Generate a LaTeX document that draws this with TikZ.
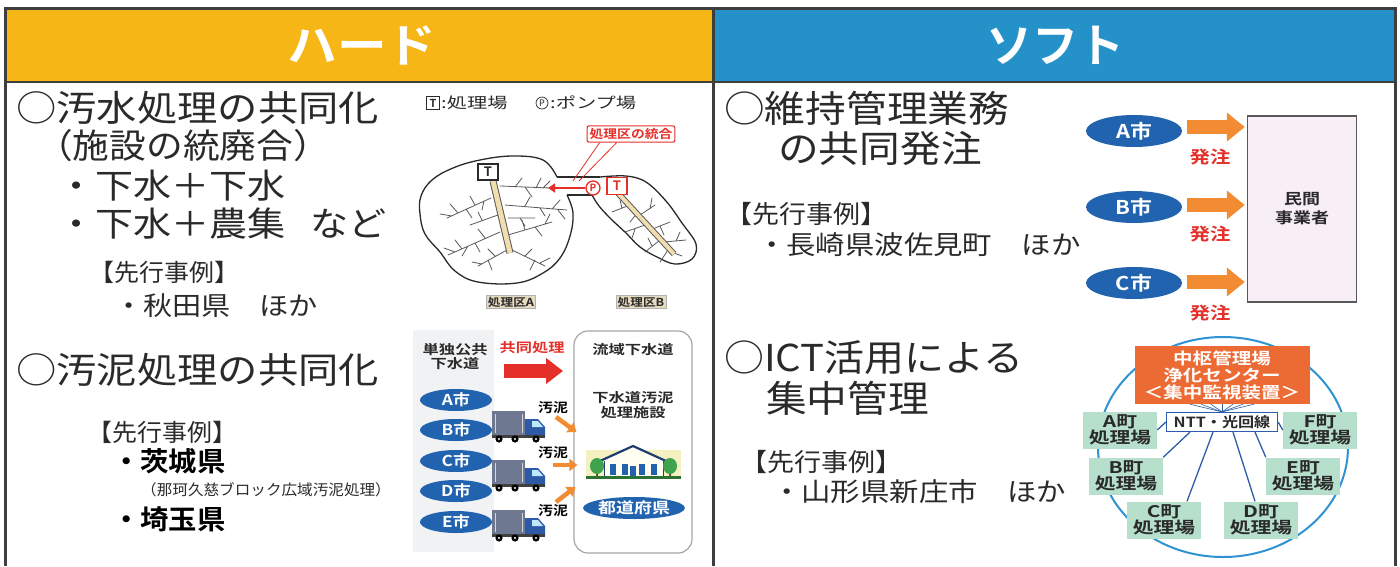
\documentclass[tikz,border=0pt]{standalone}
\usepackage{fontspec}
\usepackage{graphicx}
\usetikzlibrary{arrows.meta,shapes.geometric,calc}
\newfontfamily\jp{Noto Sans CJK JP}[BoldFont={Noto Sans CJK JP Bold}]
\newcommand\sx[2]{\scalebox{#1}[1]{#2}}
\newcommand\fz[1]{\jp\fontsize{#1}{#1}\selectfont}
\definecolor{hardbg}{HTML}{F6B615}
\definecolor{softbg}{HTML}{2492C9}
\definecolor{framec}{HTML}{3E3E3E}
\definecolor{ink}{HTML}{2A2A2A}
\definecolor{cityblue}{HTML}{2163AE}
\definecolor{ordorange}{HTML}{F28B32}
\definecolor{alertred}{HTML}{E5302A}
\definecolor{hubred}{HTML}{EC6A33}
\definecolor{plantgreen}{HTML}{B6DFCC}
\definecolor{ringblue}{HTML}{2F93D2}
\definecolor{lineblue}{HTML}{2D5DA8}
\definecolor{firmpink}{HTML}{F7EEF6}
\definecolor{trunkpale}{HTML}{F2DDB0}
\definecolor{branchgray}{HTML}{5A5A5A}
\definecolor{tagbeige}{HTML}{E6DBBE}
\definecolor{panelgray}{HTML}{F1F2F4}
\definecolor{truckgray}{HTML}{6E7890}
\definecolor{cabblue}{HTML}{2C5AA6}
\definecolor{roofnavy}{HTML}{1F3C6E}
\definecolor{treegreen}{HTML}{3FA34D}
\definecolor{lawn}{HTML}{F4F0C2}

\tikzset{
  tx/.style={inner sep=0pt, anchor=west, text=ink},
  cityov/.style={ellipse, fill=cityblue, text=white, inner sep=0pt,
    font=\fz{15}\bfseries, minimum width=72pt, minimum height=22pt},
  bigcity/.style={ellipse, fill=cityblue, text=white, inner sep=0pt,
    font=\fz{19}\bfseries, minimum width=96pt, minimum height=32pt},
  plantbox/.style={fill=plantgreen, text=ink, inner sep=0pt, align=center,
    font=\fz{16}\bfseries, minimum width=74pt, minimum height=37pt},
  orderarrow/.style={draw=ordorange, line width=14pt,
    -{Triangle[length=18pt,width=28pt]}},
  ordertag/.style={text=alertred, inner sep=0pt, font=\fz{17}\bfseries},
  sludgearrow/.style={draw=ordorange, line width=4.5pt,
    -{Triangle[length=8pt,width=12pt]}},
  sludgetag/.style={text=black, inner sep=0pt, font=\fz{13}\bfseries},
  branch/.style={draw=branchgray, line width=0.8pt, line cap=round},
  outline/.style={draw=ink, line width=1.3pt},
  netline/.style={draw=lineblue, line width=1.3pt},
  truck/.pic={
    \fill[truckgray] (0,0) rectangle (33,24);
    \draw[white!70!truckgray, line width=0.5pt] (3,3) -- (3,22) (30,3) -- (30,22);
    \fill[cabblue] (33,8) -- (46,8) -- (53,16) -- (53,26) -- (33,26) -- cycle;
    \fill[cyan!25] (40,10) -- (46,10) -- (51,16) -- (40,16) -- cycle;
    \fill[black!75] (0,24) rectangle (53,27);
    \foreach \w in {7,23,44} {
      \fill[black] (\w,28) circle (3.6);
      \fill[white] (\w,28) circle (1.2);
    }
  },
  plant/.pic={
    \fill[lawn] (0,6) rectangle (95,33);
    \fill[white!95!yellow] (18,15) rectangle (77,33);
    \draw[roofnavy, line width=0.8pt] (18,15) rectangle (77,33);
    \fill[white!95!yellow] (14,17) -- (47,2) -- (80,17) -- cycle;
    \draw[roofnavy, line width=2.2pt, line join=round] (14,17) -- (47,2) -- (80,17);
    \foreach \wx in {24,36,53,65} {\fill[cityblue] (\wx,20) rectangle ++(6,11);}
    \fill[cityblue] (44,22) rectangle (50,33);
    \fill[brown!60!black] (10,24) rectangle (12,33) (83,24) rectangle (85,33);
    \fill[treegreen] (11,22) ellipse [x radius=7, y radius=8];
    \fill[treegreen] (84,22) ellipse [x radius=7, y radius=8];
    \fill[treegreen!70!black] (0,32) rectangle (95,35);
  }
}

\begin{document}
\begin{tikzpicture}[x=1pt, y=-1pt]
\useasboundingbox (0,0) rectangle (1400,566);
\fill[white] (0,0) rectangle (1400,566);

% ---------- header bands ----------
\fill[hardbg] (5,8) rectangle (713,82);
\fill[softbg] (713,8) rectangle (1395,82);
\node[font=\fz{46}\bfseries, text=white, inner sep=0pt] (hardtitle) at (362,45) {\sx{1.08}{ハード}};
\node[font=\fz{46}\bfseries, text=white, inner sep=0pt] (softtitle) at (1055,45) {\sx{1.0}{ソフト}};

% ---------- left column: texts ----------
\node[tx, font=\fz{36}] (h1) at (16,108) {\sx{1.12}{○汚水処理の共同化}};
\node[tx, font=\fz{34}] (h1b) at (36,146) {\sx{1.08}{（施設の統廃合）}};
\node[tx, font=\fz{34}] (h1c) at (57,186) {\sx{1.12}{・下水＋下水}};
\node[tx, font=\fz{34}] (h1d) at (57,224) {\sx{1.12}{・下水＋農集\hspace{22pt}など}};
\node[tx, font=\fz{24}] (c1) at (89,272) {\sx{1.04}{【先行事例】}};
\node[tx, font=\fz{26}] (c1a) at (114,306) {\sx{1.12}{・秋田県　ほか}};

\node[tx, font=\fz{36}] (h2) at (16,370) {\sx{1.12}{○汚泥処理の共同化}};
\node[tx, font=\fz{24}] (c2) at (87,432) {\sx{1.04}{【先行事例】}};
\node[tx, font=\fz{27}\bfseries, text=black] (c2a) at (112,461) {\sx{1.05}{・茨城県}};
\node[tx, font=\fz{15}] (c2b) at (141,490) {\sx{1.04}{（那珂久慈ブロック広域汚泥処理）}};
\node[tx, font=\fz{27}\bfseries, text=black] (c2c) at (112,519) {\sx{1.05}{・埼玉県}};

% ---------- treatment district sketch ----------
\node[draw=ink, line width=0.8pt, font=\fz{11}\bfseries, text=ink, inner sep=0pt,
      minimum width=13pt, minimum height=13pt] (legT) at (433,103) {T};
\node[tx, font=\fz{15}] (legTt) at (441,103) {\sx{1.35}{:処理場}};
\node[circle, draw=ink, line width=0.7pt, inner sep=0pt, minimum size=12pt,
      font=\fz{9}, text=ink] (legP) at (542,103) {P};
\node[tx, font=\fz{15}] (legPt) at (550,103) {\sx{1.35}{:ポンプ場}};

% district A outline and the channel towards district B
\draw[outline] plot[smooth, tension=0.65] coordinates {(557,177) (543,160) (513,156) (480,160) (453,168) (432,180) (421,196) (420,214) (425,234) (440,252) (455,271) (478,282) (517,283) (543,273) (560,258) (570,236) (573,213) (567,195)};
\draw[outline] (557,177) -- (600,177);
\draw[outline] (567,195) -- (592,195);
% district B outline
\draw[outline] plot[smooth, tension=0.6] coordinates {(592,195) (599,206) (611,219) (626,233) (640,247) (657,257) (675,264) (692,259) (696,244) (682,223) (666,201) (646,182) (626,176) (600,177)};

% sewer branches, district A
\draw[branch] (500,186) -- (550,188) (515,187) -- (522,178) (525,187) -- (532,197) (536,188) -- (541,178) (543,188) -- (550,181)
  (491,198) -- (447,218) (475,205) -- (470,196) (466,209) -- (472,218) (458,213) -- (450,204) (452,216) -- (440,214) (484,201) -- (482,210)
  (505,205) -- (567,210) (525,206) -- (530,197) (540,208) -- (545,216) (552,209) -- (560,200) (558,210) -- (565,219)
  (500,232) -- (448,255) (485,238) -- (478,229) (475,243) -- (480,252) (462,249) -- (455,240) (455,252) -- (444,248) (468,246) -- (462,256)
  (508,235) -- (552,222) (525,230) -- (522,220) (535,227) -- (542,236) (545,224) -- (550,214)
  (507,250) -- (478,266) (495,256) -- (488,249) (488,260) -- (492,270) (482,264) -- (472,262)
  (512,250) -- (545,266) (525,256) -- (532,249) (535,260) -- (530,270) (540,263) -- (550,258)
  (498,215) -- (470,225) (482,220) -- (478,212) (508,218) -- (535,218) (520,218) -- (525,226);
\draw[branchgray, line width=7pt, line cap=butt] (493,181) -- (510,253);
\draw[trunkpale, line width=5pt, line cap=butt] (493,181) -- (510,253);
% sewer branches, district B
\draw[branch] (630,205) -- (612,212) (622,208) -- (620,200) (640,215) -- (655,205) (650,209) -- (652,198)
  (645,225) -- (625,232) (635,229) -- (632,238) (650,230) -- (670,222) (660,226) -- (664,235)
  (660,240) -- (645,252) (652,246) -- (648,238) (664,242) -- (686,240) (676,241) -- (680,232)
  (668,250) -- (660,262) (671,252) -- (682,256) (638,212) -- (630,222);
\draw[branchgray, line width=6pt, line cap=butt] (617,192) -- (674,254);
\draw[trunkpale, line width=4pt, line cap=butt] (617,192) -- (674,254);

\node[draw=ink, fill=white, line width=1.2pt, font=\fz{13}\bfseries, text=ink, inner sep=0pt,
      minimum width=20pt, minimum height=16pt] (plantA) at (488,172) {T};
\node[draw=alertred, fill=white, line width=1.3pt, font=\fz{13}\bfseries, text=alertred, inner sep=0pt,
      minimum width=20pt, minimum height=17pt] (plantB) at (617,186) {T};
\node[circle, draw=alertred, fill=white, line width=1.3pt, font=\fz{10}\bfseries, text=alertred,
      inner sep=0pt, minimum size=14pt] (pump) at (593,188) {P};
\coordinate (pipeend) at (548,188);
\draw[alertred, line width=2.6pt, -{Triangle[length=7pt,width=9pt]}] (pump.west) -- (pipeend);

\node[draw=alertred, fill=white, line width=1.1pt, rounded corners=2pt, inner sep=2.5pt,
      font=\fz{12}\bfseries, text=alertred] (merge) at (631,134) {\sx{1.15}{処理区の統合}};
\coordinate (mergeA) at (573,181);
\coordinate (mergeB) at (579,181);
\draw[alertred, line width=0.8pt] ($(merge.south west)+(13,0)$) -- (mergeA)
                                  ($(merge.south west)+(30,0)$) -- (mergeB);

\node[fill=tagbeige, draw=gray!60, inner sep=1.5pt, font=\fz{11}\bfseries, text=ink] (tagA) at (511,302) {\sx{1.15}{処理区A}};
\node[fill=tagbeige, draw=gray!60, inner sep=1.5pt, font=\fz{11}\bfseries, text=ink] (tagB) at (641,302) {\sx{1.15}{処理区B}};

% ---------- sludge sketch ----------
\fill[panelgray] (413,330) rectangle (494,552);
\node[font=\fz{13}\bfseries, text=ink, align=center, inner sep=0pt] (sewerlbl) at (455,357)
  {\sx{1.25}{単独公共}\\[1pt]\sx{1.25}{下水道}};
\node[font=\fz{13}\bfseries, text=alertred, inner sep=0pt] (jointlbl) at (532,348) {\sx{1.25}{共同処理}};
\coordinate (jointA) at (504,371);
\coordinate (jointB) at (563,371);
\draw[alertred, line width=14pt, -{Triangle[length=17pt,width=25pt]}] (jointA) -- (jointB);

\node[draw=gray!70, line width=1.2pt, rounded corners=14pt, minimum width=118pt,
      minimum height=222pt, inner sep=0pt] (basin) at (633,442) {};
\node[font=\fz{13}\bfseries, text=ink, inner sep=0pt] (basinlbl) at (633,350) {\sx{1.25}{流域下水道}};
\node[font=\fz{13}\bfseries, text=ink, align=center, inner sep=0pt] (sludgefac) at (633,405)
  {\sx{1.25}{下水道汚泥}\\[2pt]\sx{1.25}{処理施設}};
\pic at (586,444) {plant};
\node[cityov, minimum width=101pt, minimum height=22pt] (pref) at (634,508) {\sx{1.2}{都道府県}};

\node[cityov] (sa) at (456,400) {\sx{1.15}{A市}};
\node[cityov] (sb) at (456,430) {\sx{1.15}{B市}};
\node[cityov] (sc) at (456,461) {\sx{1.15}{C市}};
\node[cityov] (sd) at (456,491) {\sx{1.15}{D市}};
\node[cityov] (se) at (456,522) {\sx{1.15}{E市}};

\pic at (492,411) {truck};
\pic at (492,460) {truck};
\pic at (492,510) {truck};

\node[sludgetag] (sl1) at (553,408) {\sx{1.15}{汚泥}};
\node[sludgetag] (sl2) at (553,453) {\sx{1.15}{汚泥}};
\node[sludgetag] (sl3) at (553,511) {\sx{1.15}{汚泥}};
\draw[sludgearrow] (556,417) -- ($(basin.west)+(3,-10)$);
\draw[sludgearrow] (553,465) -- ($(basin.west)+(4,23)$);
\draw[sludgearrow] (556,502) -- ($(basin.west)+(2,45)$);

% ---------- right column: texts ----------
\node[tx, font=\fz{37}] (s1) at (724,108) {\sx{1.1}{○維持管理業務}};
\node[tx, font=\fz{37}] (s1b) at (778,148) {\sx{1.1}{の共同発注}};
\node[tx, font=\fz{25}] (d1) at (725,214) {\sx{1.08}{【先行事例】}};
\node[tx, font=\fz{26}] (d1a) at (757,245) {\sx{1.13}{・長崎県波佐見町　ほか}};
\node[tx, font=\fz{37}] (s2) at (724,358) {\sx{1.08}{○ICT活用による}};
\node[tx, font=\fz{37}] (s2b) at (766,398) {\sx{1.1}{集中管理}};
\node[tx, font=\fz{25}] (d2) at (740,462) {\sx{1.08}{【先行事例】}};
\node[tx, font=\fz{26}] (d2a) at (772,492) {\sx{1.13}{・山形県新庄市　ほか}};

% ---------- joint ordering ----------
\node[draw=black!65, line width=1.5pt, fill=firmpink, minimum width=109pt, minimum height=186pt,
      inner sep=0pt, align=center, font=\fz{15}\bfseries, text=ink] (firm) at (1302,209)
  {\sx{1.2}{民間}\\[4pt]\sx{1.2}{事業者}};
\node[bigcity] (ca) at (1134,131) {\sx{1.15}{A市}};
\node[bigcity] (cb) at (1134,207) {\sx{1.15}{B市}};
\node[bigcity] (cc) at (1134,283) {\sx{1.15}{C市}};
\draw[orderarrow] ($(ca.east)+(5,-4)$) -- ($(ca.east -| firm.west)+(-2,-4)$);
\draw[orderarrow] ($(cb.east)+(5,-2)$) -- ($(cb.east -| firm.west)+(-2,-2)$);
\draw[orderarrow] ($(cc.east)+(5,-1)$) -- ($(cc.east -| firm.west)+(-2,-1)$);
\node[ordertag] (oa) at (1210,157) {\sx{1.2}{発注}};
\node[ordertag] (ob) at (1210,234) {\sx{1.2}{発注}};
\node[ordertag] (oc) at (1210,313) {\sx{1.2}{発注}};

% ---------- centralised monitoring ----------
\draw[ringblue, line width=2pt] (1223,447) ellipse [x radius=125, y radius=110];
\node[fill=hubred, text=white, minimum width=175pt, minimum height=58pt, inner sep=0pt,
      align=center, font=\fz{16}\bfseries] (hub) at (1222,375)
  {\sx{1.22}{中枢管理場}\\[1pt]\sx{1.22}{浄化センター}\\[1pt]\sx{1.22}{＜集中監視装置＞}};
\node[draw=lineblue, line width=1.2pt, fill=white, minimum width=111pt, minimum height=19pt,
      inner sep=0pt, font=\fz{14}\bfseries, text=ink] (ntt) at (1222,422) {\sx{1.15}{NTT・光回線}};
\foreach \dx in {-32,-21,-11,0,11,21,32}
  \draw[lineblue, line width=0.6pt] (ntt.north) -- ($(hub.south)+(\dx,0)$);

\node[plantbox] (ta) at (1120,430) {\sx{1.3}{A町}\\\sx{1.3}{処理場}};
\node[plantbox] (tf) at (1320,430) {\sx{1.3}{F町}\\\sx{1.3}{処理場}};
\node[plantbox] (tb) at (1126,476) {\sx{1.3}{B町}\\\sx{1.3}{処理場}};
\node[plantbox] (te) at (1303,476) {\sx{1.3}{E町}\\\sx{1.3}{処理場}};
\node[plantbox] (tc) at (1164,520) {\sx{1.3}{C町}\\\sx{1.3}{処理場}};
\node[plantbox] (td) at (1261,520) {\sx{1.3}{D町}\\\sx{1.3}{処理場}};
\draw[netline] (ntt.west) -- (ta.east);
\draw[netline] (ntt.east) -- (tf.west);
\draw[netline] ($(ntt.south)+(-32,0)$) -- (tb.north east);
\draw[netline] ($(ntt.south)+(-9,0)$) -- ($(tc.north)+(23,0)$);
\draw[netline] ($(ntt.south)+(11,0)$) -- ($(td.north)+(-6,0)$);
\draw[netline] ($(ntt.south)+(33,0)$) -- (te.north west);

% ---------- frame ----------
\draw[framec, line width=2pt] (5,82) -- (1395,82);
\draw[framec, line width=3pt] (5,566) -- (5,8) -- (1395,8) -- (1395,566);
\draw[framec, line width=3pt] (713,8) -- (713,566);
\end{tikzpicture}
\end{document}
